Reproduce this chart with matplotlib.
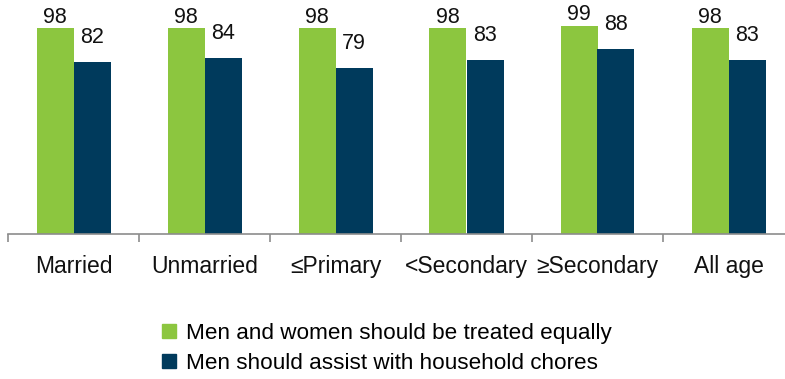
import matplotlib.pyplot as plt
from matplotlib.lines import Line2D
import numpy as np

plt.rcParams['font.family'] = ['Liberation Sans', 'DejaVu Sans']

# groups and survey shares (%)
groups = ['Married', 'Unmarried', '\u2264Primary', '<Secondary', '\u2265Secondary', 'All age']
treated_equally = [98, 98, 98, 98, 99, 98]
assist_chores = [82, 84, 79, 83, 88, 83]
series_names = ['Men and women should be treated equally',
                'Men should assist with household chores']

green = '#8CC63F'
navy = '#003A5C'

W, H = 785, 379
fig = plt.figure(figsize=(W / 100, H / 100), dpi=100)
# axes: left at x=8, bottom at y=234 (pixels from top)
ax = fig.add_axes([8 / W, (H - 234) / H, 777 / W, 234 / H])

x = np.arange(len(groups))
bw = 37 / 131
b1 = ax.bar(x - bw / 2, treated_equally, bw, color=green)
b2 = ax.bar(x + bw / 2, assist_chores, bw, color=navy)

for rect, v in zip(b1, treated_equally):
    ax.annotate(f'{v}', (rect.get_x() + rect.get_width() / 2, v),
                xytext=(0, 0.5), textcoords='offset points',
                ha='center', va='bottom', fontsize=15.5, color='#111111')
for rect, v in zip(b2, assist_chores):
    ax.annotate(f'{v}', (rect.get_x() + rect.get_width() / 2, v),
                xytext=(0, 10), textcoords='offset points',
                ha='center', va='bottom', fontsize=15.5, color='#111111')

ax.set_xlim(-0.5, -0.5 + 777 / 131)
ax.set_ylim(0, 234 / 2.10)

for s in ['top', 'right', 'left']:
    ax.spines[s].set_visible(False)
ax.spines['bottom'].set_color('#8C8C8C')
ax.spines['bottom'].set_linewidth(1.2)
ax.set_yticks([])

# tick marks between groups, labels at group centres
ax.set_xticks(np.arange(len(groups)) - 0.5)
ax.set_xticklabels([])
ax.tick_params(axis='x', which='major', direction='out', length=6,
               width=1.2, color='#8C8C8C')
ax.set_xticks(x, minor=True)
ax.set_xticklabels(groups, minor=True, fontsize=16.5, color='#111111')
ax.tick_params(axis='x', which='minor', length=0, pad=15)

handles = [Line2D([], [], marker='s', linestyle='none', markersize=9.5,
                  markerfacecolor=c, markeredgecolor=c) for c in (green, navy)]
fig.legend(handles, series_names, loc='upper left',
           bbox_to_anchor=(158 / W, 1 - 323 / H), frameon=False,
           fontsize=16.2, handletextpad=0.25, labelspacing=0.4,
           handlelength=1.0, borderaxespad=0, borderpad=0)

fig.savefig('out.png', dpi=100)
